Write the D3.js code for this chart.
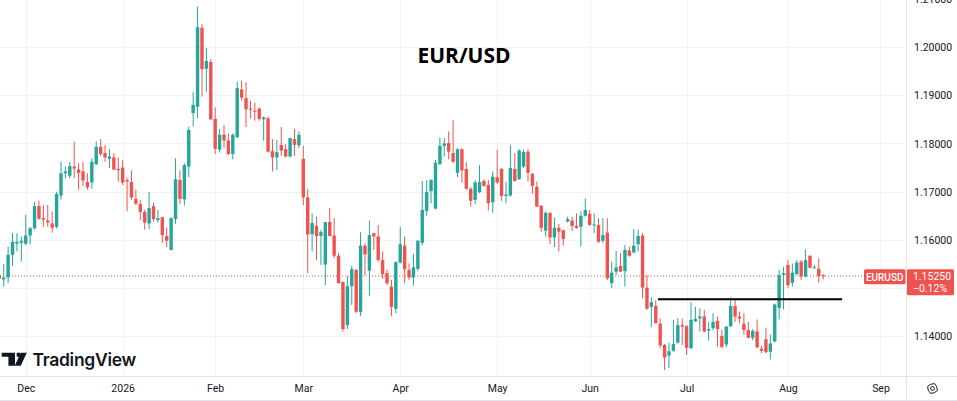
<!DOCTYPE html>
<html>
<head>
<meta charset="utf-8">
<script src="https://cdn.jsdelivr.net/npm/d3@7"></script>
<style>
  html, body { margin: 0; padding: 0; background: #fff; }
  svg { display: block; }
</style>
</head>
<body>
<div id="chart"></div>
<script>
// EUR/USD daily bars, first bar on 2025-11-21 (weekends and the two holidays skipped)
var firstDay = "2025-11-21";
var lastDay = "2026-09-30";
var holidays = ["2025-12-25", "2026-01-01"];

var opens = [
  1.1527,1.1518,1.1522,1.1569,1.1592,1.1594,1.1592,1.1609,1.1624,1.1670,
  1.1645,1.1640,1.1634,1.1627,1.1692,1.1738,1.1733,1.1752,1.1746,1.1742,
  1.1720,1.1719,1.1757,1.1793,1.1780,1.1768,1.1771,1.1747,1.1750,1.1724,
  1.1720,1.1685,1.1674,1.1658,1.1634,1.1670,1.1641,1.1647,1.1608,1.1579,
  1.1643,1.1724,1.1684,1.1752,1.1863,1.1876,1.2040,1.1955,1.1969,1.1851,
  1.1787,1.1818,1.1806,1.1778,1.1813,1.1912,1.1894,1.1872,1.1868,1.1872,
  1.1850,1.1852,1.1784,1.1771,1.1797,1.1788,1.1773,1.1809,1.1796,1.1768,
  1.1688,1.1612,1.1629,1.1608,1.1549,1.1637,1.1609,1.1567,1.1513,1.1423,
  1.1504,1.1538,1.1450,1.1588,1.1536,1.1614,1.1607,1.1558,1.1531,1.1503,
  1.1457,1.1553,1.1588,1.1538,1.1522,1.1540,1.1594,1.1660,1.1701,1.1665,
  1.1757,1.1795,1.1801,1.1780,1.1739,1.1788,1.1747,1.1706,1.1683,1.1699,
  1.1722,1.1714,1.1678,1.1730,1.1747,1.1691,1.1692,1.1747,1.1726,1.1752,
  1.1783,1.1737,1.1710,1.1671,1.1619,1.1656,1.1605,1.1625,1.1620,1.1638,
  1.1640,1.1629,1.1627,1.1650,1.1654,1.1630,1.1631,1.1598,1.1615,1.1510,
  1.1534,1.1546,1.1535,1.1578,1.1574,1.1591,1.1609,1.1501,1.1461,1.1463,
  1.1426,1.1382,1.1360,1.1370,1.1387,1.1423,1.1421,1.1375,1.1431,1.1437,
  1.1441,1.1412,1.1417,1.1432,1.1401,1.1383,1.1421,1.1463,1.1441,1.1426,
  1.1413,1.1397,1.1410,1.1374,1.1394,1.1368,1.1389,1.1459,1.1527,1.1548,
  1.1511,1.1529,1.1555,1.1524,1.1567,1.1542,1.1540,1.1527
];
var highs = [
  1.1531,1.1550,1.1586,1.1614,1.1614,1.1607,1.1652,1.1627,1.1679,1.1681,
  1.1672,1.1672,1.1659,1.1700,1.1762,1.1752,1.1762,1.1804,1.1759,1.1762,
  1.1738,1.1769,1.1804,1.1809,1.1797,1.1788,1.1780,1.1771,1.1766,1.1729,
  1.1744,1.1704,1.1683,1.1663,1.1699,1.1677,1.1662,1.1648,1.1626,1.1647,
  1.1769,1.1744,1.1759,1.1835,1.1907,1.2084,1.2048,1.1998,1.1975,1.1875,
  1.1830,1.1838,1.1821,1.1821,1.1928,1.1930,1.1927,1.1889,1.1885,1.1875,
  1.1856,1.1856,1.1809,1.1807,1.1834,1.1799,1.1812,1.1830,1.1825,1.1795,
  1.1706,1.1655,1.1648,1.1621,1.1637,1.1666,1.1645,1.1573,1.1513,1.1525,
  1.1546,1.1539,1.1616,1.1593,1.1640,1.1615,1.1631,1.1576,1.1538,1.1517,
  1.1555,1.1627,1.1607,1.1551,1.1571,1.1600,1.1722,1.1724,1.1726,1.1766,
  1.1812,1.1811,1.1825,1.1849,1.1790,1.1790,1.1761,1.1710,1.1724,1.1755,
  1.1726,1.1724,1.1742,1.1787,1.1749,1.1721,1.1797,1.1780,1.1788,1.1787,
  1.1788,1.1739,1.1721,1.1672,1.1659,1.1657,1.1646,1.1633,1.1621,1.1648,
  1.1648,1.1655,1.1659,1.1686,1.1662,1.1655,1.1645,1.1645,1.1645,1.1555,
  1.1577,1.1572,1.1589,1.1586,1.1622,1.1621,1.1614,1.1527,1.1481,1.1475,
  1.1437,1.1384,1.1387,1.1434,1.1437,1.1437,1.1423,1.1471,1.1461,1.1458,
  1.1455,1.1430,1.1448,1.1441,1.1413,1.1421,1.1481,1.1477,1.1451,1.1448,
  1.1430,1.1415,1.1435,1.1380,1.1418,1.1404,1.1468,1.1538,1.1544,1.1558,
  1.1551,1.1558,1.1558,1.1580,1.1568,1.1548,1.1562,1.1529
];
var lows = [
  1.1511,1.1503,1.1510,1.1546,1.1576,1.1555,1.1589,1.1591,1.1621,1.1641,
  1.1627,1.1627,1.1615,1.1624,1.1683,1.1728,1.1728,1.1728,1.1704,1.1712,
  1.1704,1.1706,1.1755,1.1774,1.1762,1.1749,1.1745,1.1721,1.1714,1.1659,
  1.1683,1.1672,1.1641,1.1621,1.1622,1.1638,1.1636,1.1594,1.1585,1.1578,
  1.1633,1.1674,1.1671,1.1730,1.1835,1.1852,1.1897,1.1907,1.1849,1.1778,
  1.1781,1.1790,1.1776,1.1767,1.1811,1.1889,1.1834,1.1852,1.1847,1.1847,
  1.1806,1.1781,1.1742,1.1745,1.1774,1.1771,1.1771,1.1774,1.1790,1.1672,
  1.1531,1.1576,1.1558,1.1548,1.1506,1.1607,1.1562,1.1510,1.1410,1.1415,
  1.1465,1.1448,1.1442,1.1526,1.1484,1.1579,1.1555,1.1519,1.1506,1.1442,
  1.1448,1.1551,1.1510,1.1517,1.1505,1.1535,1.1589,1.1650,1.1676,1.1663,
  1.1755,1.1773,1.1767,1.1759,1.1730,1.1719,1.1704,1.1669,1.1674,1.1697,
  1.1710,1.1661,1.1656,1.1716,1.1681,1.1676,1.1690,1.1721,1.1724,1.1749,
  1.1721,1.1695,1.1668,1.1617,1.1607,1.1591,1.1585,1.1576,1.1588,1.1636,
  1.1618,1.1623,1.1586,1.1648,1.1629,1.1614,1.1594,1.1593,1.1517,1.1500,
  1.1527,1.1534,1.1503,1.1565,1.1572,1.1576,1.1479,1.1455,1.1419,1.1427,
  1.1375,1.1330,1.1334,1.1368,1.1385,1.1382,1.1361,1.1374,1.1430,1.1410,
  1.1408,1.1391,1.1412,1.1378,1.1375,1.1377,1.1419,1.1430,1.1427,1.1403,
  1.1396,1.1392,1.1375,1.1365,1.1365,1.1352,1.1388,1.1435,1.1456,1.1500,
  1.1503,1.1527,1.1517,1.1522,1.1541,1.1541,1.1511,1.1518
];
var closes = [
  1.1520,1.1522,1.1569,1.1596,1.1596,1.1598,1.1609,1.1624,1.1670,1.1644,
  1.1642,1.1636,1.1625,1.1695,1.1738,1.1742,1.1753,1.1748,1.1739,1.1723,
  1.1709,1.1762,1.1793,1.1778,1.1771,1.1773,1.1746,1.1745,1.1719,1.1721,
  1.1688,1.1675,1.1658,1.1636,1.1666,1.1643,1.1645,1.1610,1.1598,1.1645,
  1.1726,1.1685,1.1755,1.1828,1.1880,1.2041,1.1954,1.1971,1.1850,1.1789,
  1.1818,1.1806,1.1778,1.1818,1.1915,1.1895,1.1871,1.1870,1.1866,1.1851,
  1.1854,1.1783,1.1771,1.1782,1.1785,1.1773,1.1811,1.1797,1.1818,1.1688,
  1.1611,1.1635,1.1608,1.1616,1.1637,1.1608,1.1567,1.1510,1.1415,1.1504,
  1.1539,1.1451,1.1588,1.1570,1.1610,1.1607,1.1558,1.1529,1.1510,1.1461,
  1.1554,1.1591,1.1539,1.1522,1.1543,1.1598,1.1662,1.1699,1.1724,1.1760,
  1.1795,1.1800,1.1783,1.1762,1.1788,1.1744,1.1706,1.1681,1.1719,1.1720,
  1.1712,1.1676,1.1731,1.1719,1.1691,1.1694,1.1749,1.1722,1.1785,1.1782,
  1.1739,1.1712,1.1669,1.1625,1.1656,1.1605,1.1625,1.1617,1.1602,1.1643,
  1.1629,1.1625,1.1650,1.1662,1.1631,1.1632,1.1596,1.1610,1.1520,1.1532,
  1.1543,1.1534,1.1579,1.1567,1.1588,1.1608,1.1501,1.1457,1.1471,1.1427,
  1.1381,1.1356,1.1369,1.1384,1.1423,1.1420,1.1376,1.1434,1.1436,1.1441,
  1.1410,1.1415,1.1430,1.1415,1.1378,1.1420,1.1463,1.1441,1.1437,1.1413,
  1.1397,1.1411,1.1377,1.1370,1.1367,1.1385,1.1466,1.1527,1.1531,1.1506,
  1.1532,1.1553,1.1524,1.1558,1.1542,1.1543,1.1525,1.1525
];

var priceTicks = [1.14, 1.15, 1.16, 1.17, 1.18, 1.19, 1.20, 1.21];
var symbol = "EURUSD";
var chartTitle = "EUR/USD";
var lastPrice = 1.15250;
var lastChange = "\u22120.12%";
// horizontal level drawn by hand on the chart (price, first and last bar index)
var levelPrice = 1.1477;
var levelFrom = 149.5, levelTo = 191.3;

var W = 957, H = 401;
var plotW = 906.5, plotH = 376.5;
var upColor = "#26a69a", downColor = "#ef5350";
var textColor = "#131722", gridColor = "#f3f3f3", borderColor = "#e0e3eb";
var axisFont = "Roboto, 'Liberation Sans', sans-serif";

// trading calendar
var parseDay = d3.utcParse("%Y-%m-%d"), fmtDay = d3.utcFormat("%Y-%m-%d");
var days = d3.utcDays(parseDay(firstDay), d3.utcDay.offset(parseDay(lastDay), 1))
  .filter(function(d){
    var wd = d.getUTCDay();
    return wd !== 0 && wd !== 6 && holidays.indexOf(fmtDay(d)) < 0;
  });
var monthStarts = [];
for (var i = 1; i < days.length; i++) {
  if (days[i].getUTCMonth() !== days[i-1].getUTCMonth()) {
    monthStarts.push({ i: i, label: days[i].getUTCMonth() === 0 ? d3.utcFormat("%Y")(days[i]) : d3.utcFormat("%b")(days[i]) });
  }
}

var bars = opens.map(function(o, i){
  return { i: i, o: o, h: highs[i], l: lows[i], c: closes[i] };
});

var x = d3.scaleLinear().domain([0, bars.length - 1]).range([-0.7, 823.2]);
var y = d3.scaleLinear().domain([1.14, 1.20]).range([336.3, 47]);

var svg = d3.select("#chart").append("svg")
  .attr("width", W).attr("height", H)
  .style("font-family", axisFont);

var defs = svg.append("defs");
defs.append("clipPath").attr("id", "plotClip")
  .append("rect").attr("x", 0).attr("y", 0).attr("width", plotW).attr("height", plotH);
defs.append("clipPath").attr("id", "axisClip")
  .append("rect").attr("x", plotW).attr("y", 0).attr("width", W - plotW).attr("height", plotH);

var plot = svg.append("g").attr("clip-path", "url(#plotClip)");

// grid
plot.selectAll(".hgrid").data(priceTicks).enter().append("line")
  .attr("x1", 0).attr("x2", plotW)
  .attr("y1", function(d){ return Math.round(y(d)) + 0.5; })
  .attr("y2", function(d){ return Math.round(y(d)) + 0.5; })
  .attr("stroke", gridColor);
plot.selectAll(".vgrid").data(monthStarts).enter().append("line")
  .attr("x1", function(d){ return Math.round(x(d.i)) + 0.5; })
  .attr("x2", function(d){ return Math.round(x(d.i)) + 0.5; })
  .attr("y1", 0).attr("y2", plotH)
  .attr("stroke", gridColor);

// last price dotted line
plot.append("line")
  .attr("x1", 0).attr("x2", 864)
  .attr("y1", y(lastPrice)).attr("y2", y(lastPrice))
  .attr("stroke", downColor).attr("stroke-width", 1)
  .attr("stroke-dasharray", "1,2");

// candles
function colorOf(d){ return d.c >= d.o ? upColor : downColor; }
plot.selectAll(".wick").data(bars).enter().append("line")
  .attr("x1", function(d){ return x(d.i); })
  .attr("x2", function(d){ return x(d.i); })
  .attr("y1", function(d){ return y(d.h); })
  .attr("y2", function(d){ return y(d.l); })
  .attr("stroke", colorOf).attr("stroke-width", 1);
plot.selectAll(".body").data(bars).enter().append("rect")
  .attr("x", function(d){ return x(d.i) - 1.7; })
  .attr("width", 3.4)
  .attr("y", function(d){ return y(Math.max(d.o, d.c)); })
  .attr("height", function(d){ return Math.max(1, Math.abs(y(d.o) - y(d.c))); })
  .attr("fill", colorOf);

// level line
plot.append("line")
  .attr("x1", x(levelFrom)).attr("x2", x(levelTo))
  .attr("y1", y(levelPrice)).attr("y2", y(levelPrice))
  .attr("stroke", "#000").attr("stroke-width", 2);

// title
svg.append("text")
  .attr("x", 464).attr("y", 63)
  .attr("text-anchor", "middle")
  .attr("font-family", "'Open Sans', sans-serif")
  .attr("font-weight", 700)
  .attr("font-size", 21)
  .attr("fill", "#000")
  .text(chartTitle);

// TradingView logo
var logo = svg.append("g").attr("fill", textColor);
logo.append("path").attr("d", "M1.7,352.7 H15 V365.7 H8.4 V356.8 H1.7 Z");
logo.append("circle").attr("cx", 18.6).attr("cy", 354.8).attr("r", 2.2);
logo.append("path").attr("d", "M20.6,352.7 H26.8 L20.8,365.7 H14.8 Z");
logo.append("text")
  .attr("x", 32.5).attr("y", 365.7)
  .attr("font-family", "Inter, sans-serif")
  .attr("font-weight", 600)
  .attr("font-size", 17.5)
  .attr("letter-spacing", -0.3)
  .text("TradingView");

// borders
svg.append("line").attr("x1", plotW).attr("x2", plotW).attr("y1", 0).attr("y2", H)
  .attr("stroke", borderColor);
svg.append("line").attr("x1", 0).attr("x2", W).attr("y1", plotH).attr("y2", plotH)
  .attr("stroke", borderColor);
svg.append("line").attr("x1", 0).attr("x2", W).attr("y1", H - 0.5).attr("y2", H - 0.5)
  .attr("stroke", borderColor);

// price axis; labels hidden behind the last price box are left out, as the platform does
var shownTicks = priceTicks.filter(function(v){ return Math.abs(y(v) - y(lastPrice)) > 14; });
var yAxis = d3.axisRight(y).tickValues(shownTicks).tickSize(0).tickPadding(0)
  .tickFormat(d3.format(".5f"));
var yAxisG = svg.append("g").attr("clip-path", "url(#axisClip)")
  .append("g").attr("transform", "translate(914,0)").call(yAxis);
yAxisG.select(".domain").remove();
yAxisG.selectAll("text")
  .attr("font-family", axisFont).attr("font-size", 10.5).attr("fill", textColor)
  .attr("dy", "0.34em");

// time axis
var xAxis = d3.axisBottom(x)
  .tickValues(monthStarts.map(function(d){ return d.i; }).filter(function(i){ return x(i) < plotW; }))
  .tickSize(0).tickPadding(0)
  .tickFormat(function(v){ return monthStarts.filter(function(d){ return d.i === v; })[0].label; });
var xAxisG = svg.append("g").attr("transform", "translate(0,388)").call(xAxis);
xAxisG.select(".domain").remove();
xAxisG.selectAll("text")
  .attr("font-family", axisFont).attr("font-size", 10.5).attr("fill", textColor)
  .attr("dy", "0.35em");

// settings icon
var gear = svg.append("g").attr("transform", "translate(932.5,388.5)")
  .attr("fill", "none").attr("stroke", textColor).attr("stroke-width", 1);
gear.append("path").attr("d", d3.range(8).map(function(k){
  var a = k * Math.PI / 4 + Math.PI / 8, r = (k % 2 === 0) ? 5.3 : 4.6;
  return (k === 0 ? "M" : "L") + (r * Math.cos(a)).toFixed(2) + "," + (r * Math.sin(a)).toFixed(2);
}).join("") + "Z");
gear.append("circle").attr("r", 1.9);

// symbol label on the price line
svg.append("rect").attr("x", 864).attr("y", 269.3).attr("width", 41.5).attr("height", 15)
  .attr("rx", 1.5).attr("fill", downColor);
svg.append("text").attr("x", 884.7).attr("y", 277).attr("dy", "0.35em")
  .attr("text-anchor", "middle").attr("fill", "#fff")
  .attr("font-size", 10).attr("font-weight", 500).text(symbol);

// last price box on the axis
svg.append("rect").attr("x", 907).attr("y", 269.3).attr("width", 47).attr("height", 26)
  .attr("rx", 1.5).attr("fill", downColor);
svg.append("text").attr("x", 932).attr("y", 276.5).attr("dy", "0.35em")
  .attr("text-anchor", "middle").attr("fill", "#fff")
  .attr("font-size", 10.5).text(d3.format(".5f")(lastPrice));
svg.append("text").attr("x", 930).attr("y", 288.5).attr("dy", "0.35em")
  .attr("text-anchor", "middle").attr("fill", "#fff")
  .attr("font-size", 10.5).text(lastChange);
</script>
</body>
</html>
